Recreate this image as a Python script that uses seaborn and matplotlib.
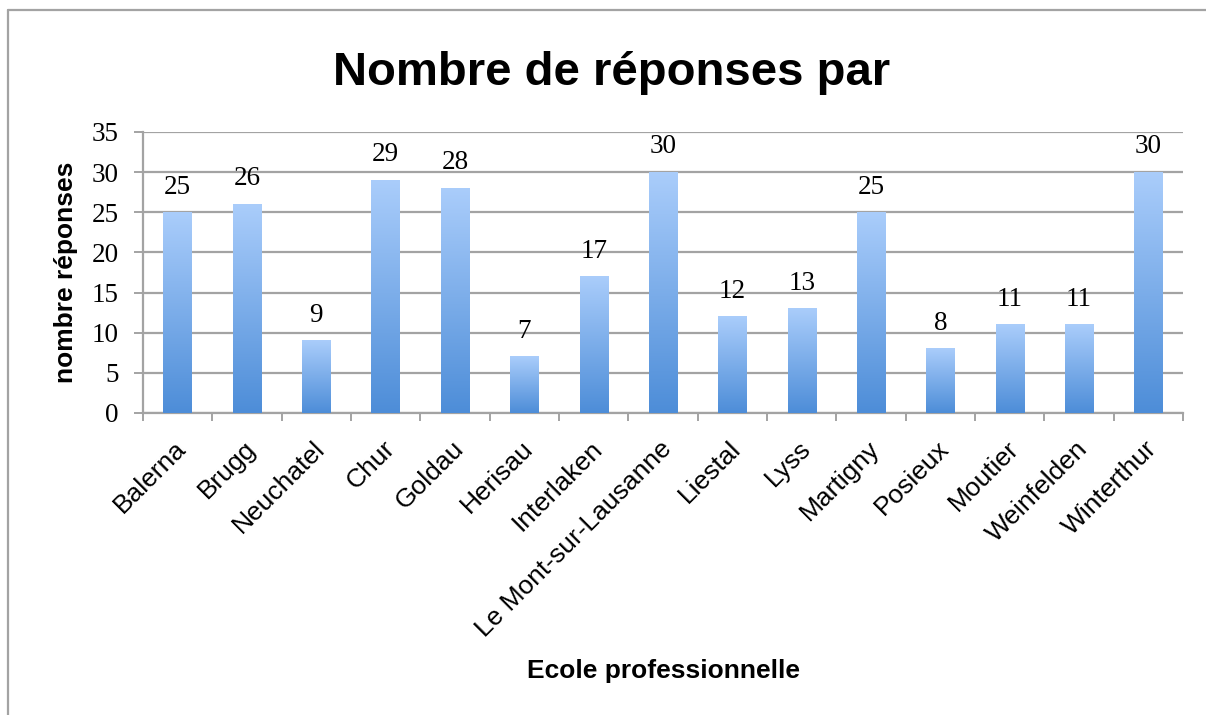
import seaborn as sns
import matplotlib.pyplot as plt
import matplotlib.colors as mcolors
import matplotlib.transforms as mtransforms
from matplotlib.lines import Line2D
import numpy as np

# --- Data ---
schools = ["Balerna", "Brugg", "Neuchatel", "Chur", "Goldau", "Herisau",
           "Interlaken", "Le Mont-sur-Lausanne", "Liestal", "Lyss",
           "Martigny", "Posieux", "Moutier", "Weinfelden", "Winterthur"]
responses = [25, 26, 9, 29, 28, 7, 17, 30, 12, 13, 25, 8, 11, 11, 30]
y_ticks = [0, 5, 10, 15, 20, 25, 30, 35]

sns.set_style("white")
plt.rcParams["font.family"] = ["Liberation Sans", "DejaVu Sans"]
plt.rcParams.update({"text.color": "black", "axes.labelcolor": "black",
                     "xtick.color": "black", "ytick.color": "black"})

grid_col = "#a3a3a3"
serif = ["Liberation Serif", "DejaVu Serif"]

fig = plt.figure(figsize=(12.06, 7.15), dpi=100)
ax = fig.add_axes([0.1186, 0.4224, 0.8624, 0.393])

sns.barplot(x=schools, y=responses, color="#7aaeea", width=0.41,
            saturation=1, ax=ax, zorder=3)

# vertical gradient fill for each bar
grad_cmap = mcolors.LinearSegmentedColormap.from_list(
    "bar", ["#4d8dd8", "#aacdfb"])
gradient = np.linspace(0, 1, 256).reshape(-1, 1)
for p in ax.patches:
    x0, w, h = p.get_x(), p.get_width(), p.get_height()
    ax.imshow(gradient, extent=[x0, x0 + w, 0, h], origin="lower",
              aspect="auto", cmap=grad_cmap, zorder=3)
    p.set_visible(False)

# value labels
for i, v in enumerate(responses):
    ax.annotate(str(v), (i, v), xytext=(0, 13.5), textcoords="offset points",
                ha="center", va="baseline", fontsize=19.5, family=serif)

ax.set_xlim(-0.5, len(schools) - 0.5)
ax.set_ylim(0, 35)
ax.set_yticks(y_ticks)
ax.set_yticklabels([str(t) for t in y_ticks], family=serif, fontsize=19.5)

ax.yaxis.grid(True, color=grid_col, linewidth=1.6, zorder=0)
ax.set_axisbelow(True)
for s in ["top", "right"]:
    ax.spines[s].set_visible(False)
for s in ["left", "bottom"]:
    ax.spines[s].set_color(grid_col)
    ax.spines[s].set_linewidth(1.6)

ax.tick_params(axis="y", which="major", left=True, length=6.5, width=1.4,
               color=grid_col, pad=11)
# tick marks between categories, labels at centers
ax.set_xticks(np.arange(-0.5, len(schools), 1.0), minor=True)
ax.tick_params(axis="x", which="minor", bottom=True, length=5.5, width=1.4,
               color=grid_col)
ax.tick_params(axis="x", which="major", bottom=False, length=0, pad=23)
ax.set_xticklabels(schools, rotation=45, ha="right", va="center",
                   rotation_mode="anchor", fontsize=19)
shift = mtransforms.ScaledTranslation(5 / 100, 0, fig.dpi_scale_trans)
for lbl in ax.get_xticklabels():
    lbl.set_transform(lbl.get_transform() + shift)

ax.set_xlabel("Ecole professionnelle", fontsize=19, fontweight="bold",
              labelpad=0)
ax.xaxis.set_label_coords(0.5, -0.875)
ax.set_ylabel("nombre réponses", fontsize=19, fontweight="bold")
ax.yaxis.set_label_coords(-0.063, 0.5)

fig.text(0.507, 0.898, "Nombre de réponses par", ha="center", va="center",
         fontsize=34, fontweight="bold")

# outer chart frame
fig.add_artist(Line2D([8 / 1206, 8 / 1206], [0, 1 - 10 / 715],
                      color=grid_col, lw=1.6, transform=fig.transFigure))
fig.add_artist(Line2D([8 / 1206, 1], [1 - 10 / 715, 1 - 10 / 715],
                      color=grid_col, lw=1.6, transform=fig.transFigure))

plt.savefig("out.png", dpi=100)
plt.close()
